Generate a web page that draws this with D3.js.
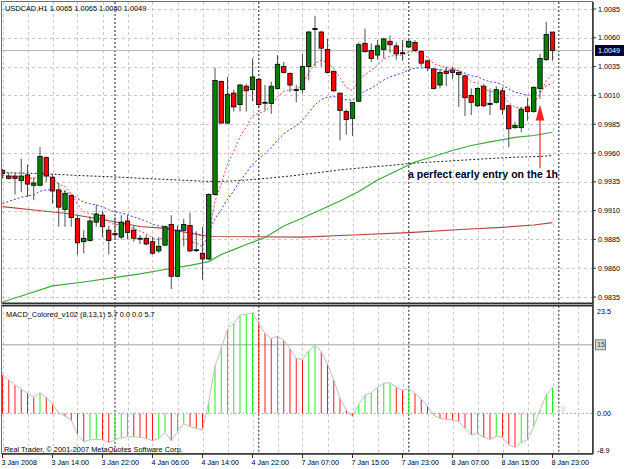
<!DOCTYPE html>
<html><head><meta charset="utf-8">
<script src="https://cdn.jsdelivr.net/npm/d3@7/dist/d3.min.js"></script>
<style>body{margin:0;background:#fff}svg{display:block}text{font-family:"Liberation Sans",Arial,sans-serif}</style>
</head><body><svg id="c" width="625" height="469"></svg>
<script>
// ---------- data ----------
const symbol = "USDCAD,H1";
const tickBars = [0,8,16,24,32,40,48,56,64,72,80,88];
const tickLabels = ["3 Jan 2008","3 Jan 14:00","3 Jan 22:00","4 Jan 06:00","4 Jan 14:00","4 Jan 22:00","7 Jan 07:00","7 Jan 15:00","7 Jan 23:00","8 Jan 07:00","8 Jan 15:00","8 Jan 23:00"];
const daySeparators = [18,41,65,89];
const priceTicks = [1.0085,1.0060,1.0035,1.0010,0.9985,0.9960,0.9935,0.9910,0.9885,0.9860,0.9835];
const bidPrice = 1.0049;

const open = [
0.9945,0.9940,0.9940,0.9936,0.9941,0.9932,0.9932,0.9956,0.9939,0.9928,
0.9911,0.9923,0.9903,0.9883,0.9884,0.9900,0.9906,0.9893,0.9890,0.9887,
0.9901,0.9893,0.9886,0.9886,0.9883,0.9875,0.9880,0.9898,0.9853,0.9893,
0.9897,0.9876,0.9873,0.9868,0.9924,1.0022,0.9986,1.0012,1.0002,1.0018,
1.0015,1.0024,1.0004,1.0003,1.0016,1.0035,1.0029,1.0015,1.0015,1.0035,
1.0068,1.0065,1.0050,1.0031,1.0012,0.9996,0.9990,1.0005,1.0055,1.0049,
1.0045,1.0050,1.0057,1.0053,1.0047,1.0052,1.0056,1.0048,1.0040,1.0033,
1.0019,1.0031,1.0032,1.0030,1.0027,1.0010,1.0001,1.0018,1.0003,1.0004,
1.0014,1.0001,0.9982,0.9982,1.0000,0.9996,1.0016,1.0041,1.0065];
const high = [
0.9946,0.9943,0.9943,0.9955,0.9950,0.9939,0.9965,0.9957,0.9942,0.9934,
0.9928,0.9924,0.9906,0.9893,0.9905,0.9915,0.9910,0.9897,0.9904,0.9906,
0.9906,0.9897,0.9889,0.9889,0.9887,0.9887,0.9897,0.9906,0.9897,0.9903,
0.9908,0.9892,0.9896,0.9925,1.0034,1.0023,1.0026,1.0015,1.0020,1.0020,
1.0042,1.0025,1.0019,1.0022,1.0045,1.0039,1.0030,1.0019,1.0046,1.0066,
1.0079,1.0066,1.0059,1.0031,1.0012,0.9998,1.0004,1.0056,1.0068,1.0055,
1.0058,1.0060,1.0062,1.0056,1.0058,1.0058,1.0058,1.0049,1.0041,1.0034,
1.0033,1.0035,1.0035,1.0031,1.0028,1.0016,1.0017,1.0020,1.0016,1.0018,
1.0017,1.0002,0.9987,1.0000,1.0008,1.0018,1.0046,1.0074,1.0065];
const low = [
0.9938,0.9937,0.9924,0.9926,0.9922,0.9919,0.9931,0.9935,0.9916,0.9896,
0.9896,0.9896,0.9872,0.9873,0.9883,0.9896,0.9887,0.9872,0.9885,0.9885,
0.9885,0.9883,0.9881,0.9880,0.9872,0.9873,0.9879,0.9842,0.9852,0.9879,
0.9874,0.9874,0.9850,0.9867,0.9923,0.9985,0.9985,0.9996,0.9996,0.9996,
1.0005,0.9999,0.9997,0.9994,1.0015,1.0029,1.0013,1.0004,1.0012,1.0023,
1.0035,1.0035,1.0029,1.0013,0.9971,0.9976,0.9975,1.0004,1.0047,1.0039,
1.0041,1.0042,1.0047,1.0041,1.0040,1.0051,1.0048,1.0035,1.0031,1.0015,
1.0016,1.0018,1.0024,1.0000,0.9992,0.9993,1.0000,1.0000,0.9993,1.0003,
0.9993,0.9965,0.9981,0.9978,0.9988,0.9995,1.0007,1.0040,1.0040];
const close = [
0.9942,0.9938,0.9938,0.9940,0.9933,0.9934,0.9957,0.9940,0.9927,0.9913,
0.9925,0.9904,0.9882,0.9886,0.9901,0.9907,0.9896,0.9884,0.9889,0.9900,
0.9891,0.9886,0.9886,0.9881,0.9873,0.9879,0.9896,0.9853,0.9893,0.9898,
0.9875,0.9876,0.9868,0.9924,1.0023,0.9986,1.0011,1.0000,1.0019,1.0014,
1.0026,1.0002,1.0004,1.0018,1.0037,1.0030,1.0019,1.0015,1.0035,1.0065,
1.0068,1.0051,1.0030,1.0014,0.9997,0.9989,1.0004,1.0054,1.0048,1.0042,
1.0053,1.0059,1.0054,1.0046,1.0047,1.0057,1.0049,1.0038,1.0034,1.0016,
1.0030,1.0029,1.0030,1.0028,1.0008,1.0004,1.0016,1.0001,1.0003,1.0015,
0.9998,0.9981,0.9984,0.9998,0.9996,1.0017,1.0042,1.0063,1.0049];

const maFast = [
0.99406,0.99400,0.99397,0.99398,0.99383,0.99374,0.99418,0.99414,0.99383,0.99327,
0.99310,0.99251,0.99156,0.99090,0.99072,0.99072,0.99046,0.99001,0.98977,0.98982,
0.98967,0.98943,0.98923,0.98899,0.98861,0.98847,0.98871,0.98795,0.98824,0.98859,
0.98835,0.98817,0.98788,0.98887,0.99183,0.99332,0.99504,0.99613,0.99741,0.99828,
0.99924,0.99945,0.99965,1.00011,1.00089,1.00136,1.00149,1.00149,1.00192,1.00294,
1.00379,1.00407,1.00385,1.00330,1.00252,1.00171,1.00142,1.00229,1.00284,1.00315,
1.00364,1.00414,1.00442,1.00446,1.00451,1.00477,1.00480,1.00459,1.00433,1.00374,
1.00357,1.00343,1.00333,1.00321,1.00268,1.00218,1.00206,1.00163,1.00132,1.00136,
1.00103,1.00038,0.99995,0.99992,0.99987,1.00027,1.00114,1.00228,1.00286];
const maSlow = [
0.99160,0.99180,0.99198,0.99216,0.99227,0.99237,0.99268,0.99280,0.99279,0.99266,
0.99264,0.99244,0.99205,0.99173,0.99159,0.99150,0.99133,0.99106,0.99087,0.99079,
0.99064,0.99045,0.99028,0.99008,0.98983,0.98966,0.98965,0.98925,0.98925,0.98930,
0.98913,0.98899,0.98879,0.98912,0.99032,0.99108,0.99199,0.99272,0.99356,0.99427,
0.99503,0.99550,0.99594,0.99647,0.99712,0.99766,0.99805,0.99836,0.99882,0.99952,
1.00018,1.00064,1.00085,1.00090,1.00079,1.00062,1.00059,1.00103,1.00137,1.00163,
1.00196,1.00233,1.00261,1.00279,1.00296,1.00321,1.00336,1.00340,1.00340,1.00325,
1.00322,1.00320,1.00318,1.00314,1.00293,1.00270,1.00261,1.00237,1.00218,1.00212,
1.00191,1.00156,1.00128,1.00115,1.00101,1.00107,1.00136,1.00181,1.00209];
const maLongBars = [0,6,12,18,24,30,34,38,42,46,50,54,58,62,66,70,74,78,82,86,88];
const maLongVals = [0.99429,0.99422,0.99405,0.99392,0.99376,0.99361,0.99351,0.99361,0.99379,0.99400,0.99426,0.99453,0.99474,0.99492,0.99513,0.99526,0.99539,0.99552,0.99563,0.99570,0.99578];
const maGreenBars = [0,4,8,13,17,22,26,30,33,35,37,39,42,45,48,51,54,57,60,63,66,69,72,75,78,82,85,88];
const maGreenVals = [0.98307,0.98376,0.98446,0.98480,0.98511,0.98550,0.98589,0.98624,0.98657,0.98719,0.98761,0.98806,0.98867,0.98966,0.99036,0.99110,0.99183,0.99266,0.99366,0.99444,0.99522,0.99570,0.99622,0.99665,0.99696,0.99735,0.99752,0.99780];
const maRedBars = [0,5,10,16,22,26,29,33,40,48,56,65,74,80,85,88];
const maRedVals = [0.99134,0.99105,0.99077,0.99023,0.98962,0.98945,0.98914,0.98875,0.98873,0.98869,0.98888,0.98908,0.98938,0.98955,0.98975,0.98995];

const macd = [
8.4,7.3,6.2,5.25,4.4,3.5,4.5,3.5,2.0,0.1,
-0.6,-1.5,-4.75,-6.2,-5.8,-5.7,-5.8,-6.4,-5.8,-5.4,
-5.1,-5.15,-5.25,-5.5,-6.0,-5.5,-4.2,-6.0,-4.0,-2.3,
-2.9,-3.3,-3.65,2.5,10.35,14.2,18.4,19.7,21.5,21.7,
22.0,19.7,17.5,16.4,16.9,16.0,14.2,12.0,11.8,13.7,
14.9,13.5,10.8,7.3,3.3,0.7,-0.7,2.0,4.0,4.5,
5.7,6.6,6.7,5.7,5.1,5.4,4.4,3.1,1.6,-0.4,
-1.1,-1.3,-1.5,-1.8,-3.3,-4.75,-4.4,-5.25,-5.7,-5.0,
-5.25,-6.9,-7.45,-6.4,-5.8,-2.9,0.7,4.0,5.7];
const macdTicks = [23.5,15,0,-8.9];
const macdLevel = 15;
const macdTitle = "MACD_Colored_v102 (8,13,1) 5.7 0.0 0.0 5.7";
const annotation = "a perfect early entry on the 1h";
const arrowBar = 86, arrowTop = 1.0002, arrowBottom = 0.9947;

// ---------- layout ----------
const L=2, R=593, T=2, MB=303.5, MT=305.7, MBOT=454;
const svg = d3.select("#c");
const x = d3.scaleLinear().domain([0,88]).range([2.5,552.5]);
const y = d3.scaleLinear().domain([0.9835,1.0085]).range([297,9]);
const ym = d3.scaleLinear().domain([-8.9,23.5]).range([MBOT,306]);

svg.append("rect").attr("width",625).attr("height",469).attr("fill","#fff");
const defs = svg.append("defs");
defs.append("clipPath").attr("id","cm").append("rect").attr("x",L).attr("y",T).attr("width",R-L).attr("height",MB-T);
defs.append("clipPath").attr("id","cd").append("rect").attr("x",L).attr("y",MT).attr("width",R-L).attr("height",MBOT-MT);

const grid = svg.append("g").attr("stroke","#c8c8c8").attr("stroke-width",1).attr("stroke-dasharray","3,3");
// vertical grid
for(let b=0; x(b) < R-2; b+=4){
  const xx = Math.round(x(b))+0.5;
  grid.append("line").attr("x1",xx).attr("x2",xx).attr("y1",T).attr("y2",MB);
  grid.append("line").attr("x1",xx).attr("x2",xx).attr("y1",MT).attr("y2",MBOT);
}
priceTicks.forEach(p=>{
  const yy = Math.round(y(p))+0.5;
  grid.append("line").attr("x1",L).attr("x2",R).attr("y1",yy).attr("y2",yy);
});

// day separators
const sep = svg.append("g").attr("stroke","#505050").attr("stroke-width",1.3).attr("stroke-dasharray","2,2");
daySeparators.forEach(b=>{
  const xx = x(b);
  sep.append("line").attr("x1",xx).attr("x2",xx).attr("y1",T).attr("y2",MB);
  sep.append("line").attr("x1",xx).attr("x2",xx).attr("y1",MT).attr("y2",MBOT);
});

// bid line
svg.append("line").attr("x1",L).attr("x2",R).attr("y1",y(bidPrice)).attr("y2",y(bidPrice))
  .attr("stroke","#b8b8b8").attr("stroke-width",1);

const main = svg.append("g").attr("clip-path","url(#cm)");
const line = d3.line();
// moving averages
main.append("path").attr("d", line(maRedBars.map((b,i)=>[x(b), y(maRedVals[i])])))
  .attr("fill","none").attr("stroke","#b84040").attr("stroke-width",1.2);
main.append("path").attr("d", line(maGreenBars.map((b,i)=>[x(b), y(maGreenVals[i])])))
  .attr("fill","none").attr("stroke","#3aa83a").attr("stroke-width",1.2);
main.append("path").attr("d", line(maLongBars.map((b,i)=>[x(b), y(maLongVals[i])])))
  .attr("fill","none").attr("stroke","#202020").attr("stroke-width",1).attr("stroke-dasharray","2,2");
main.append("path").attr("d", line(maSlow.map((v,i)=>[x(i), y(v)])))
  .attr("fill","none").attr("stroke","#3c3cf0").attr("stroke-width",1).attr("stroke-dasharray","2,2");
main.append("path").attr("d", line(maFast.map((v,i)=>[x(i), y(v)])))
  .attr("fill","none").attr("stroke","#f04848").attr("stroke-width",1).attr("stroke-dasharray","2,2");

// candles
const bars = d3.range(open.length);
const cg = main.append("g");
cg.selectAll("line.w").data(bars).join("line").attr("class","w")
  .attr("x1",i=>x(i)).attr("x2",i=>x(i)).attr("y1",i=>y(high[i])).attr("y2",i=>y(low[i]))
  .attr("stroke","#505050").attr("stroke-width",1);
const bw = 4.4;
cg.selectAll("rect.b").data(bars).join("rect").attr("class","b")
  .attr("x",i=>x(i)-bw/2).attr("width",bw)
  .attr("y",i=>Math.min(y(open[i]),y(close[i])))
  .attr("height",i=>Math.max(0.9, Math.abs(y(open[i])-y(close[i]))))
  .attr("fill",i=>close[i]>open[i]?"#008000":(close[i]<open[i]?"#ff0000":"#000"))
  .attr("stroke","#000").attr("stroke-width",0.8);

// arrow + annotation
const ax = x(arrowBar);
svg.append("line").attr("x1",ax).attr("x2",ax).attr("y1",y(arrowTop)+14).attr("y2",y(arrowBottom))
  .attr("stroke","#ff2020").attr("stroke-width",1.2);
svg.append("path").attr("d",`M${ax},${y(arrowTop)} L${ax+4.3},${y(arrowTop)+16} L${ax-4.3},${y(arrowTop)+16} Z`)
  .attr("fill","#ff2020");
svg.append("text").attr("x",408).attr("y",177.5).text(annotation)
  .attr("font-size",10).attr("font-weight","bold").attr("fill","#000020")
  .attr("textLength",150).attr("lengthAdjust","spacingAndGlyphs");

// title
const n = open.length-1;
svg.append("text").attr("x",5).attr("y",11).attr("font-size",7.4).attr("fill","#000")
  .text(`${symbol}  ${open[n].toFixed(4)} ${high[n].toFixed(4)} ${low[n].toFixed(4)} ${close[n].toFixed(4)}`);

// MACD panel
const mg = svg.append("g").attr("clip-path","url(#cd)");
mg.append("line").attr("x1",L).attr("x2",R).attr("y1",ym(0)).attr("y2",ym(0))
  .attr("stroke","#b0b0b0").attr("stroke-dasharray","2,2");
mg.append("line").attr("x1",L).attr("x2",R).attr("y1",ym(macdLevel)).attr("y2",ym(macdLevel))
  .attr("stroke","#a0a0a0").attr("stroke-width",1);
mg.selectAll("line.h").data(bars).join("line").attr("class","h")
  .attr("x1",i=>x(i)).attr("x2",i=>x(i)).attr("y1",ym(0)).attr("y2",i=>ym(macd[i]))
  .attr("stroke",i=>(i>0 && macd[i]>=macd[i-1])?"#22ee22":"#ff1a1a").attr("stroke-width",1);
mg.append("path").attr("d", line(macd.map((v,i)=>[x(i), ym(v)])))
  .attr("fill","none").attr("stroke","#c0c0c0").attr("stroke-width",1);
svg.append("text").attr("x",556).attr("y",412).attr("font-size",8.5).attr("fill","#d0d0d0").text("19");

svg.append("text").attr("x",6).attr("y",317).attr("font-size",7.4).attr("fill","#000").text(macdTitle);
svg.append("text").attr("x",4).attr("y",452).attr("font-size",7.4).attr("fill","#000")
  .text("Real Trader, \u00a9 2001-2007 MetaQuotes Software Corp.");

// frames
const fr = svg.append("g").attr("fill","none");
fr.append("rect").attr("x",L-0.5).attr("y",T-0.5).attr("width",R-L).attr("height",MB-T).attr("stroke","#707070");
fr.append("rect").attr("x",L-0.5).attr("y",MT-0.5).attr("width",R-L).attr("height",MBOT-MT).attr("stroke","#707070");
fr.append("line").attr("x1",L).attr("x2",R).attr("y1",MB).attr("y2",MB).attr("stroke","#303030").attr("stroke-width",1.5);
fr.append("line").attr("x1",L).attr("x2",R).attr("y1",MT).attr("y2",MT).attr("stroke","#303030").attr("stroke-width",1.5);
fr.append("line").attr("x1",R).attr("x2",R).attr("y1",T).attr("y2",MBOT).attr("stroke","#303030").attr("stroke-width",1.5);
fr.append("line").attr("x1",L).attr("x2",R).attr("y1",MBOT).attr("y2",MBOT).attr("stroke","#303030").attr("stroke-width",1.5);

// price axis
const pa = svg.append("g");
priceTicks.forEach(p=>{
  pa.append("line").attr("x1",R).attr("x2",R+3).attr("y1",y(p)).attr("y2",y(p)).attr("stroke","#303030");
  pa.append("text").attr("x",598).attr("y",y(p)+2.6).attr("font-size",7.2).attr("fill","#000").text(p.toFixed(4));
});
const by = y(bidPrice);
pa.append("rect").attr("x",595).attr("y",by-5.5).attr("width",29).attr("height",11).attr("fill","#000040");
pa.append("text").attr("x",598).attr("y",by+2.6).attr("font-size",7.2).attr("fill","#fff").text(bidPrice.toFixed(4));

// macd axis
macdTicks.forEach(v=>{
  let yy = ym(v);
  if (v===23.5) yy = 311; if (v===-8.9) yy = 450;
  const label = v===0 ? "0.00" : String(v);
  if (v===macdLevel){
    pa.append("rect").attr("x",595.5).attr("y",yy-5).attr("width",10).attr("height",10)
      .attr("fill","#d8d8d8").attr("stroke","#808080");
  }
  pa.append("text").attr("x",597).attr("y",yy+2.6).attr("font-size",7.2).attr("fill", v===macdLevel?"#404040":"#000").text(label);
});

// time axis
tickBars.forEach((b,i)=>{
  const xx = x(b);
  svg.append("line").attr("x1",xx).attr("x2",xx).attr("y1",MBOT).attr("y2",MBOT+4).attr("stroke","#303030");
  svg.append("text").attr("x",xx-1).attr("y",465).attr("font-size",7.2).attr("fill","#000").text(tickLabels[i]);
});
</script></body></html>
